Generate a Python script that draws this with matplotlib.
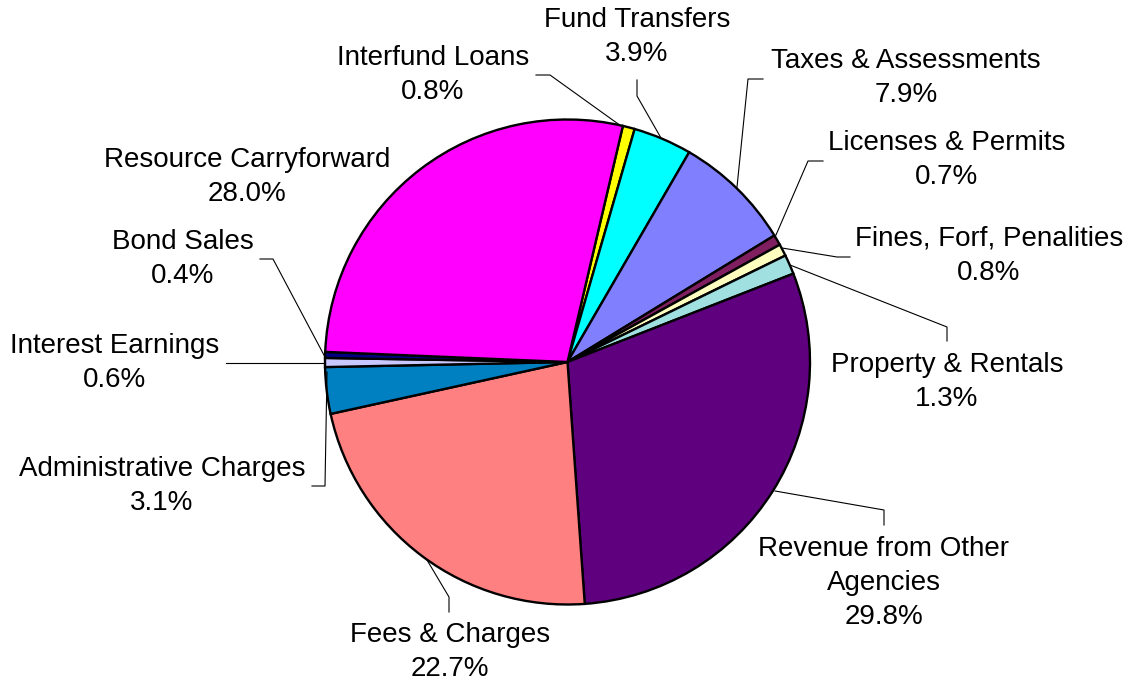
import matplotlib
matplotlib.use("Agg")
import matplotlib.pyplot as plt

plt.rcParams['font.family'] = ['Liberation Sans', 'DejaVu Sans']

# data, clockwise from the top
categories = ['Interfund Loans', 'Fund Transfers', 'Taxes & Assessments',
              'Licenses & Permits', 'Fines, Forf, Penalities', 'Property & Rentals',
              'Revenue from Other\nAgencies', 'Fees & Charges', 'Administrative Charges',
              'Interest Earnings', 'Bond Sales', 'Resource Carryforward']
shares = [0.8, 3.9, 7.9, 0.7, 0.8, 1.3, 29.8, 22.7, 3.1, 0.6, 0.4, 28.0]
colors = ['#FFFF00', '#00FFFF', '#8080FF', '#7F1F5F', '#FFFFC0', '#A0E0E0',
          '#5F007F', '#FF8080', '#0080C0', '#C8C8FF', '#000080', '#FF00FF']

# label centres (image pixels) and leader lines (image pixels)
label_pos = [(433, 75), (637, 37), (906, 78), (947, 160), (989, 256), (947, 382),
             (884, 583), (450, 652), (162, 486), (115, 363), (183, 259), (247, 177)]
leaders = [
    [(621, 126), (550, 75), (536, 75)],
    [(661, 138), (637, 96), (637, 80)],
    [(737, 187), (748, 79), (763, 79)],
    [(776, 235), (808, 161), (823, 161)],
    [(782, 248), (837, 257), (850, 257)],
    [(790, 265), (947, 327), (947, 341)],
    [(775, 491), (884, 510), (884, 525)],
    [(427, 560), (449, 597), (449, 612)],
    [(327, 372), (325, 486), (312, 486)],
    [(325, 363), (226, 363)],
    [(325, 357), (273, 259), (260, 259)],
    None,
]

W, H = 1134, 686
fig = plt.figure(figsize=(W / 100, H / 100), dpi=100)
ax = fig.add_axes([0, 0, 1, 1])
ax.set_xlim(0, W)
ax.set_ylim(0, H)
ax.set_aspect('equal')
ax.axis('off')

ax.pie(shares, colors=colors, center=(567.5, H - 362), radius=242.5,
       startangle=76.8, counterclock=False,
       wedgeprops=dict(edgecolor='black', linewidth=1.7))

for name, val, (lx, ly), pts in zip(categories, shares, label_pos, leaders):
    if pts is not None:
        ax.plot([p[0] for p in pts], [H - p[1] for p in pts], color='black', lw=0.8)
    ax.text(lx, H - ly, '%s\n%.1f%%' % (name, val), ha='center', va='center',
            fontsize=20, linespacing=1.42)

ax.set_xlim(0, W)
ax.set_ylim(0, H)
fig.savefig('out.png', dpi=100)
